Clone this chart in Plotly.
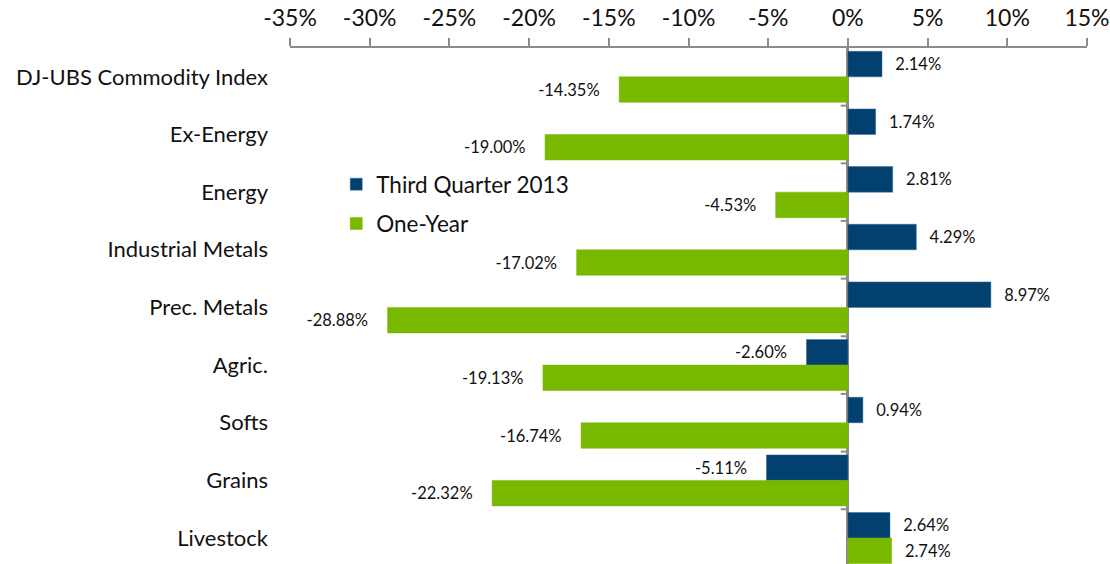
import plotly.graph_objects as go

categories = ["DJ-UBS Commodity Index", "Ex-Energy", "Energy", "Industrial Metals",
              "Prec. Metals", "Agric.", "Softs", "Grains", "Livestock"]
q3_2013 = [2.14, 1.74, 2.81, 4.29, 8.97, -2.60, 0.94, -5.11, 2.64]
one_year = [-14.35, -19.00, -4.53, -17.02, -28.88, -19.13, -16.74, -22.32, 2.74]
tick_vals = [-35, -30, -25, -20, -15, -10, -5, 0, 5, 10, 15]
tick_text = [f"{v}%" for v in tick_vals]

font_family = "Lato, 'Open Sans', sans-serif"
blue = "#02406f"
green = "#78b900"


def bar_labels(values):
    # extra padding between the bar end and its label, like the original
    out = []
    for v in values:
        if v < 0:
            out.append(f"{v:.2f}%\u2002\u2002")
        else:
            out.append(f"\u2002\u2009{v:.2f}%")
    return out


fig = go.Figure()
fig.add_trace(go.Bar(y=categories, x=q3_2013, orientation="h", name="Third Quarter 2013",
                     legendgroup="q3",
                     marker=dict(color=blue, line=dict(color="#3a6a90", width=0.5)),
                     text=bar_labels(q3_2013), textposition="outside",
                     textfont=dict(size=16.5, color="#111"), cliponaxis=False))
fig.add_trace(go.Bar(y=categories, x=one_year, orientation="h", name="One-Year",
                     legendgroup="oy",
                     marker=dict(color=green, line=dict(color=green, width=0.5)),
                     text=bar_labels(one_year), textposition="outside",
                     textfont=dict(size=16.5, color="#111"), cliponaxis=False))

# small category tick marks on the zero line
shapes = []
for i in range(len(categories) - 1):
    shapes.append(dict(type="line", xref="x", yref="y", x0=-0.45, x1=0, y0=i + 0.5, y1=i + 0.5,
                       line=dict(color="#8c8c8c", width=2)))

fig.update_layout(
    width=1110, height=564,
    margin=dict(l=290, r=23, t=48, b=0),
    paper_bgcolor="white", plot_bgcolor="white",
    barmode="group", bargap=0.115, bargroupgap=0,
    font=dict(family=font_family, color="#111"),
    showlegend=True,
    legend=dict(x=0.058, y=0.777, xanchor="left", yanchor="top", traceorder="grouped",
                font=dict(size=22.5), bgcolor="rgba(0,0,0,0)", itemwidth=30,
                tracegroupgap=7),
    shapes=shapes,
)
fig.update_xaxes(side="top", range=[-35, 15], tickvals=tick_vals, ticktext=tick_text,
                 showgrid=False, showline=True, linecolor="#8c8c8c", linewidth=2,
                 ticks="outside", ticklen=8, tickwidth=2, tickcolor="#8c8c8c",
                 tickfont=dict(size=23), ticklabelstandoff=3, automargin=False,
                 zeroline=True, zerolinecolor="#8c8c8c", zerolinewidth=3)
# last category runs slightly past the bottom edge of the picture
fig.update_yaxes(range=[len(categories) - 0.55, -0.5], showgrid=False, showline=False, ticks="",
                 tickfont=dict(size=22), ticklabelstandoff=21, automargin=False)

# drop the default body margin so the figure fills the window exactly
fig.write_html("out.html", config={"displayModeBar": False},
               post_script="document.body.style.margin='0';")
